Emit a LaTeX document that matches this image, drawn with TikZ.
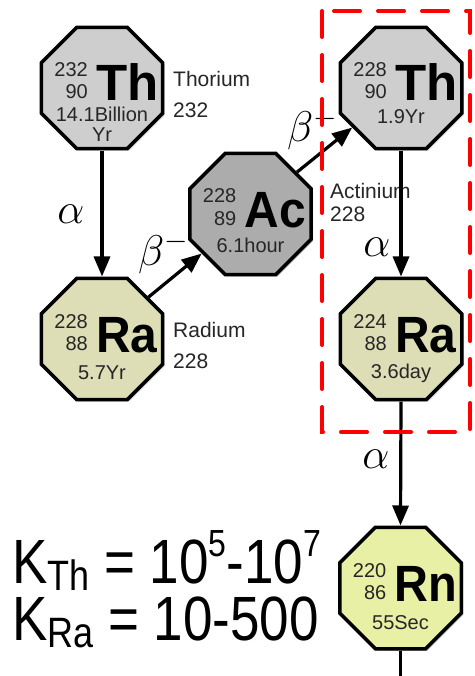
\RequirePackage{fix-cm}
\documentclass[tikz,border=0pt]{standalone}
\usepackage{fontspec}
\setmainfont{Liberation Sans}
\usetikzlibrary{shapes.geometric,arrows.meta,calc,shadows}
\definecolor{thgray}{RGB}{206,206,206}
\definecolor{acgray}{RGB}{172,172,172}
\definecolor{rabeige}{RGB}{221,222,182}
\definecolor{rnyellow}{RGB}{232,240,166}
\definecolor{boxred}{RGB}{255,0,0}
\newcommand{\elem}[9]{%
  \node[oct, fill=#4] (#1) at (#2,#3) {};
  \node[numtxt, anchor=base east] (#1-a) at ($(#1)+(-14,-11)$) {#5};
  \node[numtxt, anchor=base east] (#1-z) at ($(#1)+(-14,11)$) {#6};
  \node[symtxt, anchor=base west] (#1-s) at ($(#1)+(-6,13)$) {#7};
  \node[numtxt, anchor=base] (#1-t) at ($(#1)+(0,#9)$) {#8};
}
\begin{document}
\begin{tikzpicture}[x=1pt,y=-1pt,
  oct/.style={regular polygon, regular polygon sides=8, minimum size=131.5pt,
    inner sep=0pt, draw=black, line width=3.5pt,
    drop shadow={opacity=0.35, shadow xshift=2pt, shadow yshift=-2pt}},
  numtxt/.style={inner sep=0pt, font=\fontsize{20}{22}\selectfont, text=black!85},
  symtxt/.style={inner sep=0pt, text depth=0pt, font=\fontsize{51}{51}\selectfont\bfseries},
  lbl/.style={inner sep=0pt, anchor=base west, font=\fontsize{21}{21}\selectfont, text=black!85},
  grk/.style={inner sep=0pt, font=\fontsize{43}{43}\selectfont},
  arr/.style={line width=3.2pt, -{Triangle[length=20pt,width=16pt]}},
  kbig/.style={inner sep=0pt, anchor=base west, font=\fontsize{53}{53}\selectfont}]
\useasboundingbox (0,0) rectangle (474,676);
\fill[white] (0,0) rectangle (474,676);

% elements
\elem{th232}{102}{88}{thgray}{232}{90}{Th}{14.1Billion}{34}
\node[numtxt, anchor=base] (th232-y) at ($(th232)+(0,54)$) {Yr};
\elem{ra228}{102}{339}{rabeige}{228}{88}{\scalebox{0.94}[1]{Ra}}{5.7Yr}{40}
\elem{ac228}{250.5}{214}{acgray}{228}{89}{\scalebox{0.94}[1]{Ac}}{6.1hour}{38}
\elem{th228}{401}{88}{thgray}{228}{90}{Th}{1.9Yr}{36}
\elem{ra224}{401}{339}{rabeige}{224}{88}{\scalebox{0.94}[1]{Ra}}{3.6day}{39}
\elem{rn220}{400.5}{588}{rnyellow}{220}{86}{\scalebox{0.92}[1]{Rn}}{55Sec}{41}

% side labels
\node[lbl] (l1) at (173,87) {Thorium};
\node[lbl] (l2) at (173,118) {232};
\node[lbl] (l3) at (173,337) {Radium};
\node[lbl] (l4) at (173,368) {228};
\node[lbl] (l5) at (330,198) {Actinium};
\node[lbl] (l6) at (330,222) {228};

% decay arrows
\draw[arr] (th232.south) -- (ra228.north);
\draw[arr] (ra228.42) -- (ac228.219);
\draw[arr] (ac228.42) -- (th228.219);
\draw[arr] (th228.south) -- (ra224.north);
\draw[arr] (ra224.south) -- (rn220.north);
\coordinate (bot) at (400.5,676);
\draw[line width=3.2pt] (rn220.south) -- (bot);

% decay labels
\node[grk] (a1) at (71,214) {$\alpha$};
\node[grk] (a2) at (377,247) {$\alpha$};
\node[grk] (a3) at (376,459) {$\alpha$};
\node[grk, anchor=base west] (b1) at (138,265) {$\beta^{-}$};
\node[grk, anchor=base west] (b2) at (287,142) {$\beta^{-}$};

% red dashed frame
\draw[boxred, line width=4pt, dash pattern=on 26pt off 18pt, line cap=round]
  (322,11) rectangle (470,432);

% partition coefficients
\node[kbig] (k1) at (12,583) {\scalebox{1}[1.18]{K\raisebox{-0.12em}{\fontsize{36}{36}\selectfont Th} = 10\raisebox{0.42em}{\fontsize{32}{32}\selectfont 5}-10\raisebox{0.42em}{\fontsize{32}{32}\selectfont 7}}};
\node[kbig] (k2) at (12,640) {\scalebox{1}[1.18]{K\raisebox{-0.12em}{\fontsize{36}{36}\selectfont Ra} = 10-500}};
\end{tikzpicture}
\end{document}
